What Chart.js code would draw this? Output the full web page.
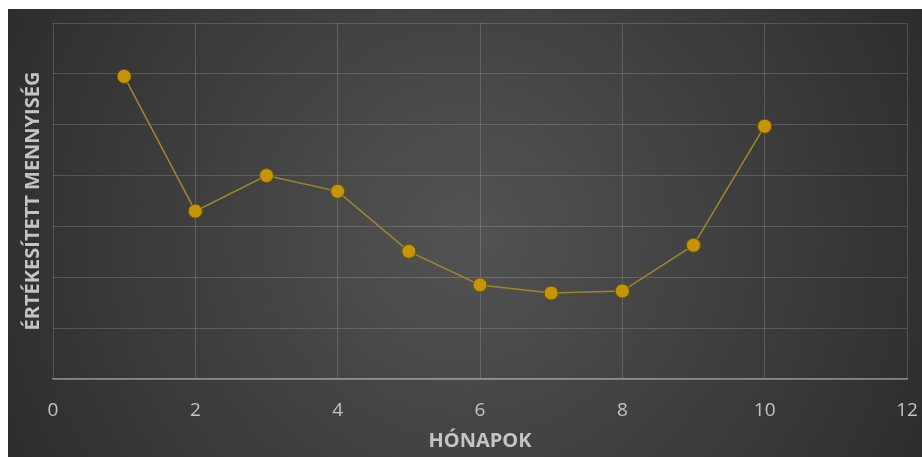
<!DOCTYPE html>
<html>
<head>
<meta charset="utf-8">
<script src="https://cdn.jsdelivr.net/npm/chart.js@4.4.0/dist/chart.umd.min.js"></script>
<style>
  body { margin: 0; background: #fff; }
  #wrap { position: absolute; left: 8px; top: 9px; width: 914px; height: 448px; }
</style>
</head>
<body>
<div id="wrap"><canvas id="grafikon"></canvas></div>
<script>
const honapok = [1, 2, 3, 4, 5, 6, 7, 8, 9, 10];
const mennyiseg = [5.95, 3.3, 4.0, 3.69, 2.51, 1.85, 1.69, 1.73, 2.63, 4.97];
const xTicks = [0, 2, 4, 6, 8, 10, 12];

const pontok = honapok.map((h, i) => ({ x: h, y: mennyiseg[i] }));

// sotet radialis hatter, mint az Excel sablonban
const hatter = {
    id: 'hatter',
    beforeDraw(chart) {
        const { ctx, width, height } = chart;
        const g = ctx.createRadialGradient(width / 2, height / 2, 0, width / 2, height / 2, width * 0.6);
        g.addColorStop(0, '#535353');
        g.addColorStop(1, '#2a2a2a');
        ctx.save();
        ctx.fillStyle = g;
        ctx.fillRect(0, 0, width, height);
        ctx.restore();
    }
};

const grafikon = new Chart('grafikon', {
    type: 'scatter',
    data: {
        datasets: [{
            data: pontok,
            showLine: true,
            borderColor: '#a08530',
            borderWidth: 1.5,
            pointRadius: 7,
            pointBackgroundColor: '#c49508',
            pointBorderColor: '#6b5308',
            pointBorderWidth: 1
        }]
    },
    options: {
        responsive: true,
        maintainAspectRatio: false,
        animation: false,
        layout: { padding: { top: 14, right: 15 } },
        plugins: { legend: { display: false }, tooltip: { enabled: false } },
        scales: {
            x: {
                min: 0, max: 12,
                afterBuildTicks: s => { s.ticks = xTicks.map(v => ({ value: v })); },
                afterFit: s => { s.height = 78; s.paddingRight = 0; s.paddingLeft = 0; },
                grid: { color: 'rgba(255,255,255,0.16)', drawTicks: false },
                border: { color: 'rgba(255,255,255,0.4)', width: 1.5 },
                ticks: { color: '#c4c4c4', padding: 20, font: { family: 'Open Sans', size: 19 } },
                title: {
                    display: true, text: 'HÓNAPOK', color: '#c4c4c4',
                    padding: { top: 4, bottom: 4 },
                    font: { family: 'Open Sans', size: 20, weight: 'bold' }
                }
            },
            y: {
                min: 0, max: 7,
                afterFit: s => { s.width = 45; },
                grid: { color: 'rgba(255,255,255,0.16)', drawTicks: false },
                border: { display: false },
                ticks: { display: false, stepSize: 1 },
                title: {
                    display: true, text: 'ÉRTÉKESÍTETT MENNYISÉG', color: '#c4c4c4',
                    padding: { top: 13, bottom: 13 },
                    font: { family: 'Open Sans', size: 20, weight: 'bold' }
                }
            }
        }
    },
    plugins: [hatter]
});
</script>
</body>
</html>
